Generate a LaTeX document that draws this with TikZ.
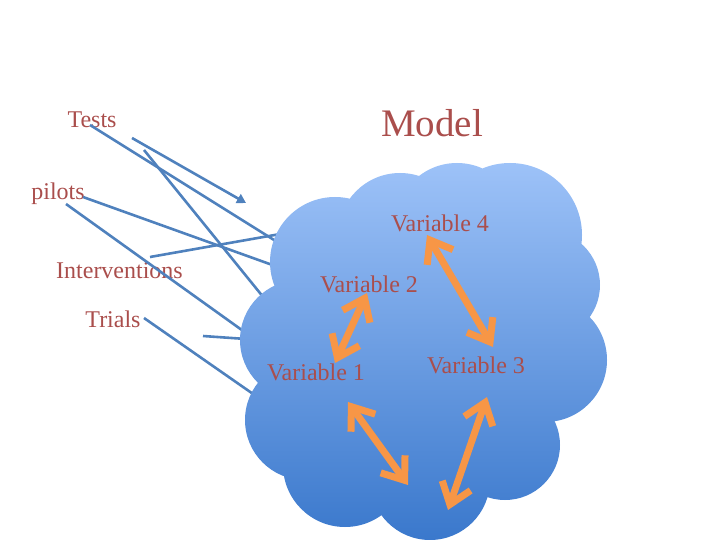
\documentclass[tikz,border=0pt]{standalone}
\usepackage{fontspec}
\setmainfont{Liberation Serif}
\usetikzlibrary{arrows.meta}
\definecolor{txt}{RGB}{170,78,76}
\definecolor{bl}{RGB}{79,129,189}
\definecolor{org}{RGB}{247,150,70}
\definecolor{ctop}{RGB}{157,194,248}
\definecolor{cbot}{RGB}{58,120,204}
\begin{document}
\begin{tikzpicture}[x=1pt,y=-1pt,
  lbl/.style={text=txt,font=\fontsize{24}{28}\selectfont,inner sep=0pt,anchor=base},
  feed/.style={draw=bl,line width=2.6pt},
  barb/.tip={Straight Barb[length=20pt,width=30pt,line width=7pt]},
  link/.style={draw=org,line width=7pt,barb-barb}]
\useasboundingbox (0,0) rectangle (720,540);

% labels outside
\node[lbl] (tests) at (92,128) {Tests};
\node[lbl,font=\fontsize{39}{44}\selectfont] (model) at (432,137) {Model};
\node[lbl] (pilots) at (58,200) {pilots};
\node[lbl] (interv) at (119.5,278) {Interventions};
\node[lbl] (trials) at (113,327) {Trials};

% feed line end points
\coordinate (f1s) at (90,125);  \coordinate (f1e) at (282,245);
\coordinate (f2s) at (132,138); \coordinate (f2e) at (246,203);
\coordinate (f3s) at (144,150); \coordinate (f3e) at (264,298);
\coordinate (f4s) at (83,197);  \coordinate (f4e) at (278,267);
\coordinate (f5s) at (150,257); \coordinate (f5e) at (286,233);
\coordinate (f6s) at (66,204);  \coordinate (f6e) at (246,333);
\coordinate (f7s) at (203,336); \coordinate (f7e) at (246,339);
\coordinate (f8s) at (144,318); \coordinate (f8e) at (256,396);

\draw[feed] (f1s) -- (f1e);
\draw[feed,-{Triangle[length=9pt,width=10pt]}] (f2s) -- (f2e);
\draw[feed] (f3s) -- (f3e);
\draw[feed] (f4s) -- (f4e);
\draw[feed] (f5s) -- (f5e);
\draw[feed] (f6s) -- (f6e);
\draw[feed] (f7s) -- (f7e);
\draw[feed] (f8s) -- (f8e);

% cloud
\shade[top color=ctop,bottom color=cbot]
  (335,262) circle (65pt)
  (400,235) circle (62pt)
  (457,225) circle (62pt)
  (510,235) circle (72pt)
  (545,285) circle (55pt)
  (545,360) circle (62pt)
  (505,445) circle (55pt)
  (430,480) circle (60pt)
  (345,465) circle (62pt)
  (305,420) circle (60pt)
  (300,340) circle (60pt)
  (430,340) circle (130pt);

% labels inside
\node[lbl] (v4) at (440,232) {Variable 4};
\node[lbl] (v2) at (369,292) {Variable 2};
\node[lbl] (v1) at (316,380) {Variable 1};
\node[lbl] (v3) at (476,373) {Variable 3};

% orange arrows
\coordinate (a1) at (367,293); \coordinate (a2) at (335,363);
\coordinate (b1) at (427,235); \coordinate (b2) at (493,347);
\coordinate (c1) at (348,402); \coordinate (c2) at (408,485);
\coordinate (d1) at (487,397); \coordinate (d2) at (448,510);
\draw[link] (a1) -- (a2);
\draw[link] (b1) -- (b2);
\draw[link] (c1) -- (c2);
\draw[link] (d1) -- (d2);
\end{tikzpicture}
\end{document}
